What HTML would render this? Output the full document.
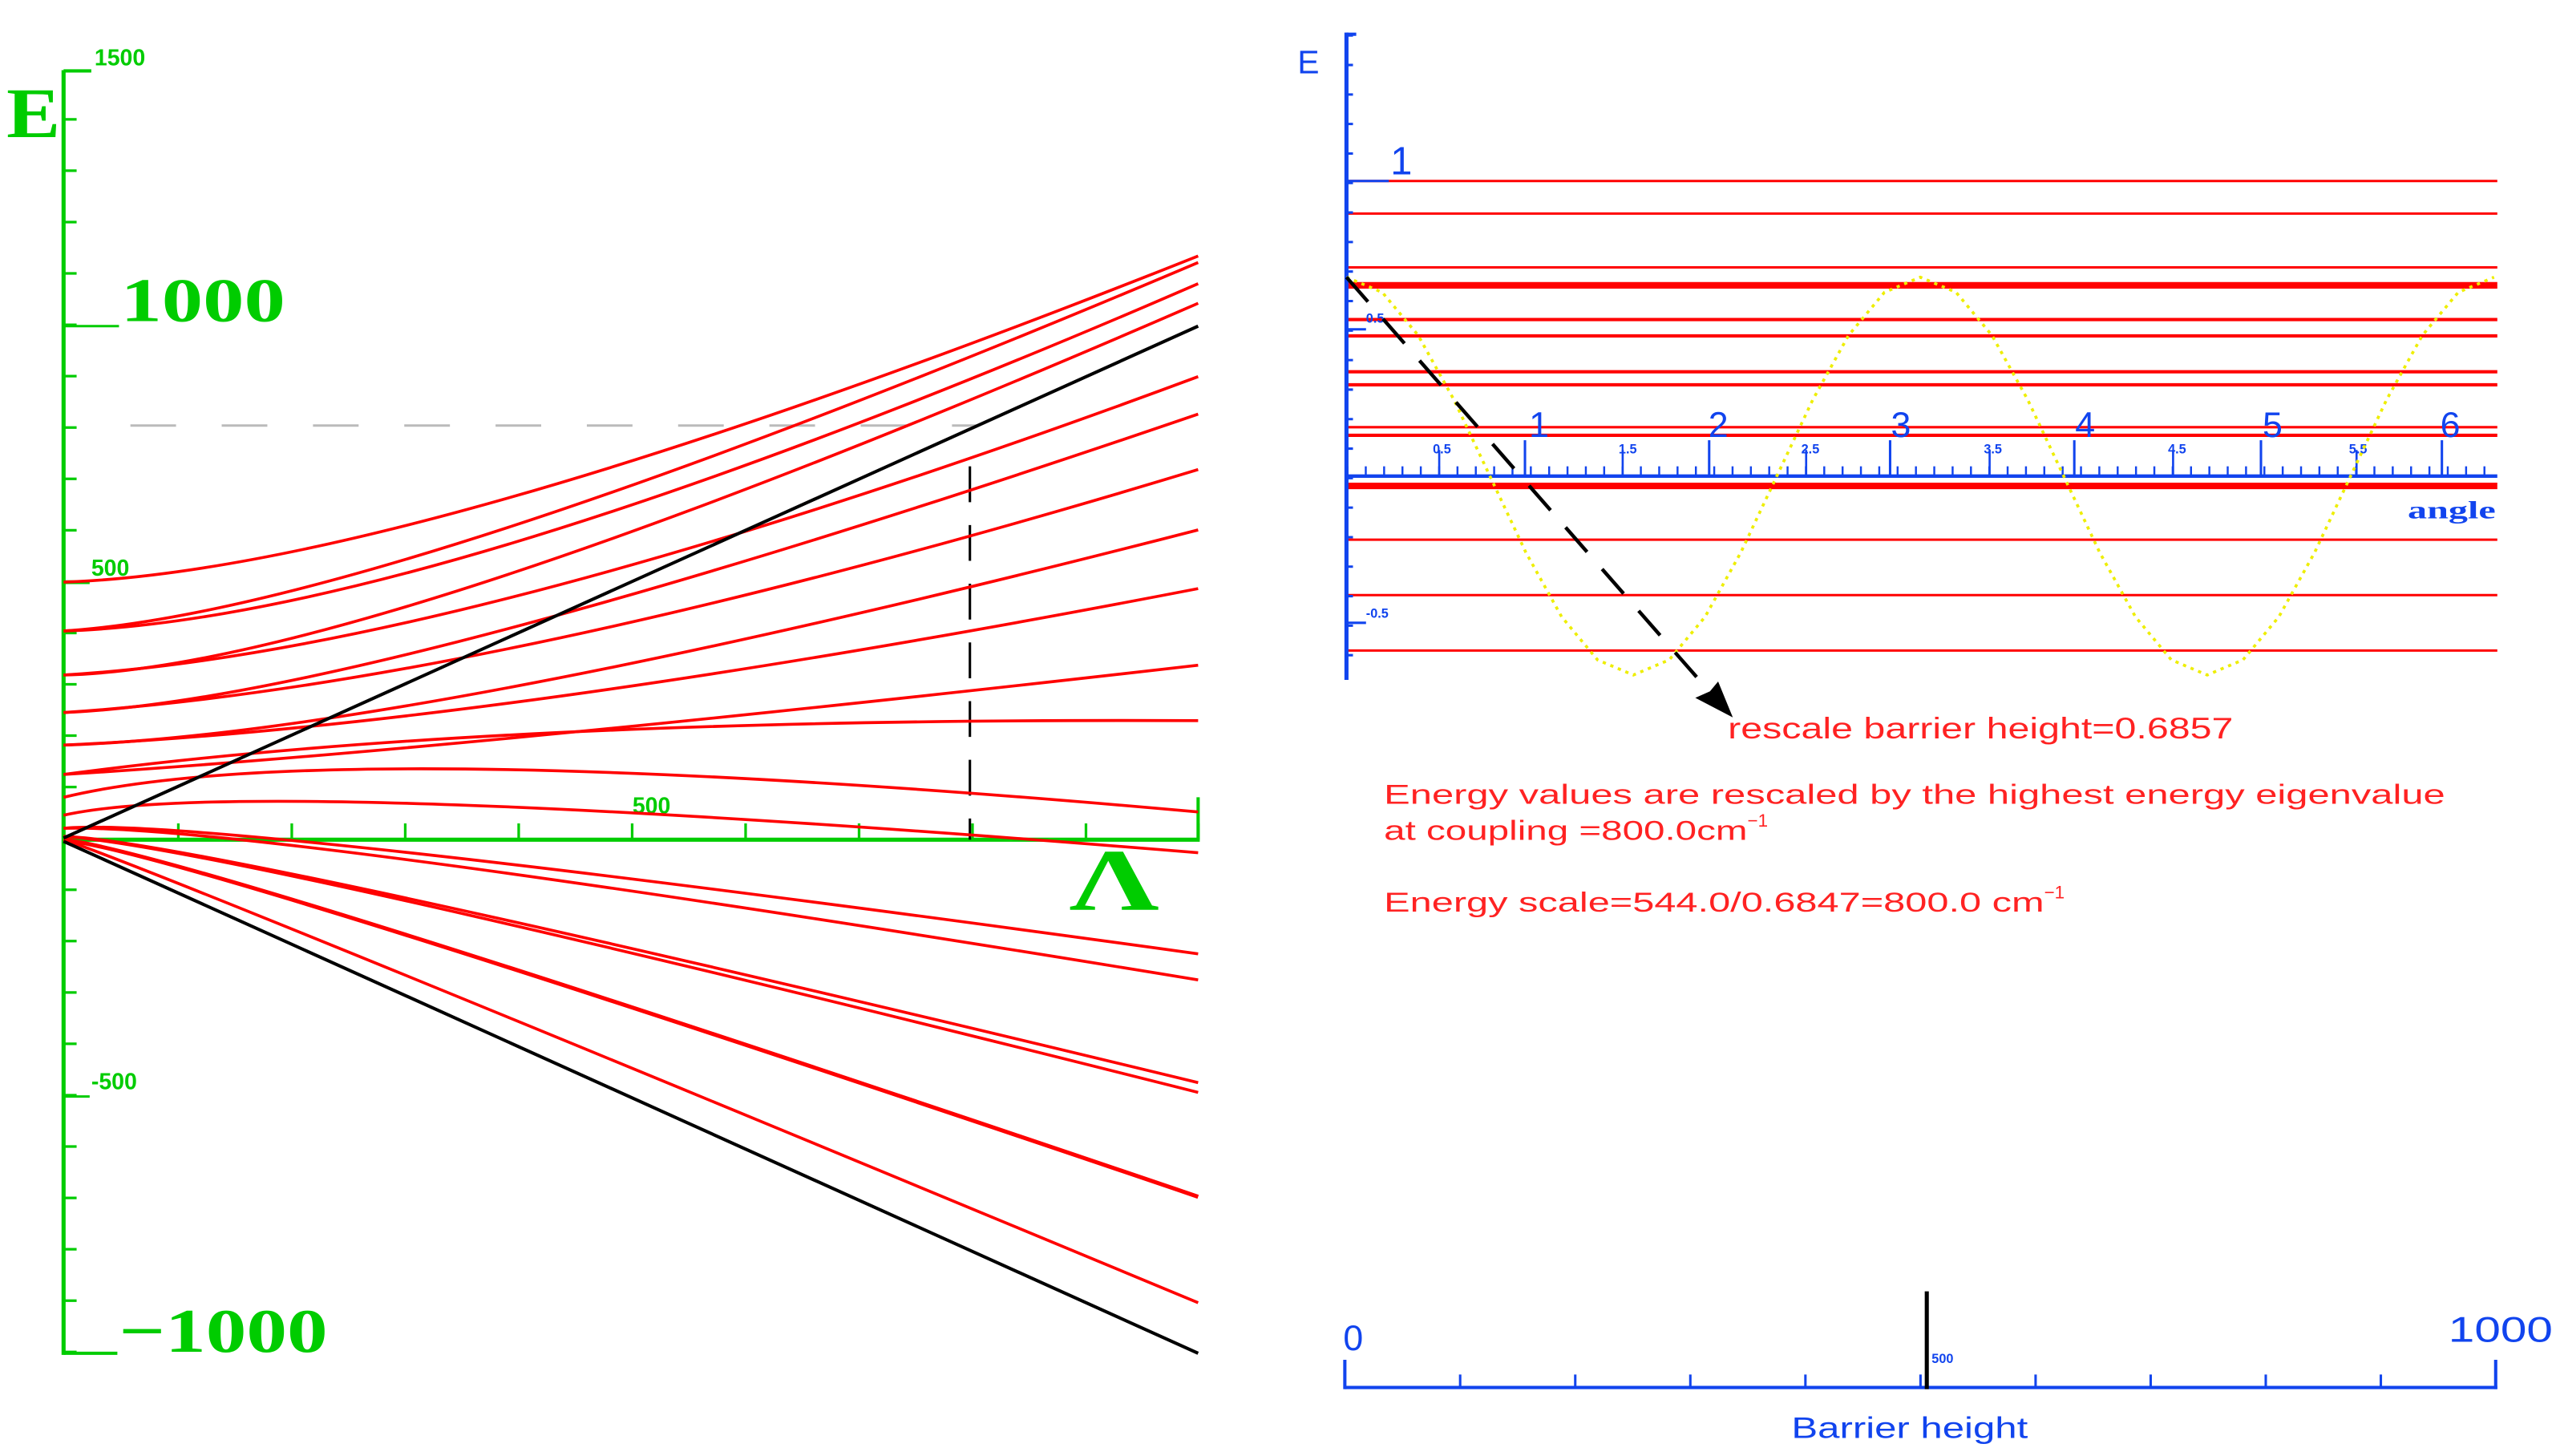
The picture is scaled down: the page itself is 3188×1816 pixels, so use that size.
<!DOCTYPE html>
<html><head><meta charset="utf-8"><style>html,body{margin:0;padding:0;background:#fff}svg{display:block}</style></head>
<body>
<svg width="3188" height="1816" viewBox="0 0 1568 893" preserveAspectRatio="none" xmlns="http://www.w3.org/2000/svg">
<!-- LEFT PLOT -->
<g stroke="#00cc00" fill="none">
<line x1="39" y1="43" x2="39" y2="831" stroke-width="2.5"/>
<line x1="39" y1="43.5" x2="56" y2="43.5" stroke-width="2"/>
<line x1="39" y1="830" x2="72" y2="830" stroke-width="2"/>
<line x1="39" y1="200" x2="73" y2="200" stroke-width="1.5"/>
<line x1="39" y1="357.5" x2="55" y2="357.5" stroke-width="1.5"/>
<line x1="39" y1="672.5" x2="55" y2="672.5" stroke-width="1.5"/>
<line x1="43" y1="42.5" x2="43" y2="830" stroke-width="8" stroke-dasharray="1.6 29.9" stroke-dashoffset="-29.9"/>
<line x1="39" y1="515" x2="736" y2="515" stroke-width="2.5"/>
<line x1="735" y1="489" x2="735" y2="515" stroke-width="2"/>
<line x1="108.6" y1="510" x2="736" y2="510" stroke-width="10" stroke-dasharray="1.6 68" />
</g>
<g fill="#00cc00" font-family="Liberation Serif, serif">
<text x="4" y="84" font-size="44" font-weight="bold" textLength="33" lengthAdjust="spacingAndGlyphs">E</text>
<text x="74" y="197" font-size="38" font-weight="bold" textLength="101" lengthAdjust="spacingAndGlyphs">1000</text>
<text x="73" y="829" font-size="38" font-weight="bold" textLength="128" lengthAdjust="spacingAndGlyphs">−1000</text>
<text x="656" y="558" font-size="54" font-weight="bold" textLength="55" lengthAdjust="spacingAndGlyphs">Λ</text>
</g>
<g fill="#00cc00" font-family="Liberation Sans, sans-serif" font-weight="bold" font-size="14">
<text x="58" y="40">1500</text>
<text x="56" y="353">500</text>
<text x="56" y="668">-500</text>
<text x="388" y="499">500</text>
</g>
<line x1="80" y1="261" x2="600" y2="261" stroke="#bbb" stroke-width="1.5" stroke-dasharray="28 28"/>
<line x1="595" y1="286" x2="595" y2="515" stroke="#000" stroke-width="1.5" stroke-dasharray="22 14"/>
<g stroke="#ff0000" stroke-width="1.8" fill="none">
<path d="M39 357 Q250 350 735 157"/>
<path d="M39 387 Q230 375 735 161"/>
<path d="M39 387 Q260 380 735 174"/>
<path d="M39 414 Q220 410 735 186"/>
<path d="M39 414 Q280 400 735 231"/>
<path d="M39 437 Q220 430 735 254"/>
<path d="M39 437 Q300 420 735 288"/>
<path d="M39 457 Q250 450 735 325"/>
<path d="M39 457 Q300 445 735 361"/>
<path d="M39 475 Q280 460 735 408"/>
<path d="M39 475 Q300 440 735 442"/>
<path d="M39 489 Q200 450 735 498"/>
<path d="M39 500 Q150 475 735 523"/>
<path d="M39 508 Q120 500 735 585"/>
<path d="M39 508 Q150 505 735 601"/>
<path d="M39 513 Q120 515 735 664"/>
<path d="M39 513 Q140 520 735 670"/>
<path d="M39 515 Q120 525 735 734" stroke-width="2.5"/>
<path d="M39 515 Q100 535 735 799"/>
</g>
<g stroke="#000" stroke-width="2" fill="none">
<line x1="39" y1="514" x2="735" y2="200"/>
<line x1="39" y1="516" x2="735" y2="830"/>
</g>

<!-- RIGHT PLOT -->
<g stroke="#ff0000" fill="none">
<line x1="826" y1="111" x2="1532" y2="111" stroke-width="1.5"/>
<line x1="826" y1="131" x2="1532" y2="131" stroke-width="1.5"/>
<line x1="826" y1="164" x2="1532" y2="164" stroke-width="1.5"/>
<line x1="826" y1="175" x2="1532" y2="175" stroke-width="4"/>
<line x1="826" y1="196" x2="1532" y2="196" stroke-width="2"/>
<line x1="826" y1="206" x2="1532" y2="206" stroke-width="2"/>
<line x1="826" y1="228" x2="1532" y2="228" stroke-width="2"/>
<line x1="826" y1="236" x2="1532" y2="236" stroke-width="2"/>
<line x1="826" y1="262" x2="1532" y2="262" stroke-width="1.5"/>
<line x1="826" y1="267" x2="1532" y2="267" stroke-width="2"/>
<line x1="826" y1="298" x2="1532" y2="298" stroke-width="4"/>
<line x1="826" y1="331" x2="1532" y2="331" stroke-width="1.5"/>
<line x1="826" y1="365" x2="1532" y2="365" stroke-width="1.5"/>
<line x1="826" y1="399" x2="1532" y2="399" stroke-width="1.5"/>
</g>
<g stroke="#1144ee" fill="none">
<line x1="826" y1="20" x2="826" y2="417" stroke-width="2.5"/>
<line x1="826" y1="21" x2="832" y2="21" stroke-width="2"/>
<line x1="828" y1="21" x2="828" y2="417" stroke-width="4" stroke-dasharray="1.5 16.6"/>
<line x1="826" y1="111" x2="852" y2="111" stroke-width="1.5"/>
<line x1="826" y1="202" x2="838" y2="202" stroke-width="1.5"/>
<line x1="826" y1="382" x2="838" y2="382" stroke-width="1.5"/>
<line x1="826" y1="292" x2="1532" y2="292" stroke-width="2.2"/>
<line x1="826" y1="289" x2="1532" y2="289" stroke-width="6" stroke-dasharray="1.2 10.05"/>
<line x1="826" y1="284" x2="1532" y2="284" stroke-width="16" stroke-dasharray="0 56.25 1.3 55" />
<line x1="935.5" y1="270" x2="935.5" y2="292" stroke-width="1.5"/>
<line x1="1048.5" y1="270" x2="1048.5" y2="292" stroke-width="1.5"/>
<line x1="1159.5" y1="270" x2="1159.5" y2="292" stroke-width="1.5"/>
<line x1="1272.5" y1="270" x2="1272.5" y2="292" stroke-width="1.5"/>
<line x1="1387" y1="270" x2="1387" y2="292" stroke-width="1.5"/>
<line x1="1498" y1="270" x2="1498" y2="292" stroke-width="1.5"/>
</g>
<g fill="#1144ee" font-family="Liberation Sans, sans-serif">
<text x="796" y="45" font-size="20">E</text>
<text x="853" y="107" font-size="24">1</text>
<text x="938" y="268" font-size="22">1</text>
<text x="1048" y="268" font-size="22">2</text>
<text x="1160" y="268" font-size="22">3</text>
<text x="1273" y="268" font-size="22">4</text>
<text x="1388" y="268" font-size="22">5</text>
<text x="1497" y="268" font-size="22">6</text>
<g font-size="8" font-weight="bold">
<text x="838" y="198">0.5</text>
<text x="838" y="379">-0.5</text>
<text x="879" y="278">0.5</text>
<text x="993" y="278">1.5</text>
<text x="1105" y="278">2.5</text>
<text x="1217" y="278">3.5</text>
<text x="1330" y="278">4.5</text>
<text x="1441" y="278">5.5</text>
</g>
<text x="1477" y="318" font-size="15" font-weight="bold" font-family="Liberation Serif, serif" textLength="54" lengthAdjust="spacingAndGlyphs">angle</text>
</g>
<polyline fill="none" stroke="#eeee00" stroke-width="1.8" stroke-dasharray="2 3" points="826,170 848,179.3 870,205.7 892,245.3 914,292 936,338.7 958,378.3 980,404.7 1002,414 1024,404.7 1046,378.3 1068,338.7 1090,292 1112,245.3 1134,205.7 1156,179.3 1178,170 1200,179.3 1222,205.7 1244,245.3 1266,292 1288,338.7 1310,378.3 1332,404.7 1354,414 1376,404.7 1398,378.3 1420,338.7 1442,292 1464,245.3 1486,205.7 1508,179.3 1530,170"/>
<line x1="826" y1="170" x2="1052" y2="428" stroke="#000" stroke-width="2.2" stroke-dasharray="20 14"/>
<polygon points="1063,440 1040,428 1049,424 1054,418" fill="#000"/>
<g fill="#ff2222" font-family="Liberation Sans, sans-serif">
<text x="1060" y="453" font-size="18" textLength="310" lengthAdjust="spacingAndGlyphs">rescale barrier height=0.6857</text>
<text x="849" y="493" font-size="17" textLength="651" lengthAdjust="spacingAndGlyphs">Energy values are rescaled by the  highest  energy eigenvalue</text>
<text x="849" y="515" font-size="17"><tspan textLength="223" lengthAdjust="spacingAndGlyphs">at  coupling =800.0cm</tspan><tspan font-size="11" dy="-8">−1</tspan></text>
<text x="849" y="559" font-size="17"><tspan textLength="405" lengthAdjust="spacingAndGlyphs">Energy scale=544.0/0.6847=800.0 cm</tspan><tspan font-size="11" dy="-8">−1</tspan></text>
</g>
<!-- slider -->
<g stroke="#1144ee" fill="none" stroke-width="2">
<line x1="825" y1="851" x2="1532" y2="851"/>
<line x1="825" y1="834" x2="825" y2="852"/>
<line x1="1531" y1="834" x2="1531" y2="852"/>
<line x1="895" y1="847" x2="1531" y2="847" stroke-width="8" stroke-dasharray="1.5 69.1" />
</g>
<line x1="1182" y1="792" x2="1182" y2="852" stroke="#000" stroke-width="2.5"/>
<g fill="#1144ee" font-family="Liberation Sans, sans-serif">
<text x="824" y="828" font-size="22">0</text>
<text x="1502" y="823" font-size="22" textLength="64" lengthAdjust="spacingAndGlyphs">1000</text>
<text x="1185" y="836" font-size="8" font-weight="bold">500</text>
<text x="1099" y="882" font-size="18" textLength="145" lengthAdjust="spacingAndGlyphs">Barrier height</text>
</g>
</svg>
</body></html>
